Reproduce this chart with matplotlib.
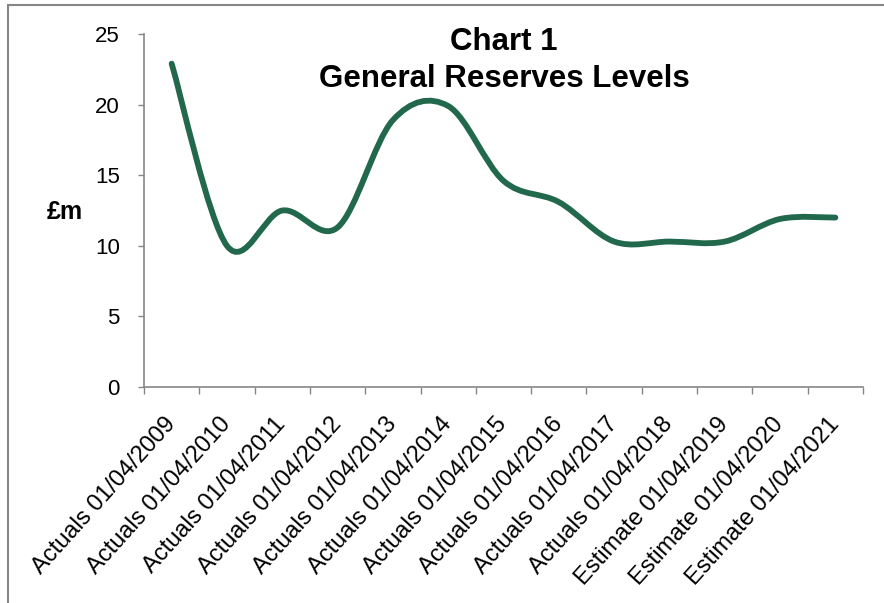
#!/usr/bin/env python3
"""Chart 1: General Reserves Levels, smoothed line."""
import matplotlib
matplotlib.use("Agg")
import matplotlib.pyplot as plt
import numpy as np
from matplotlib.path import Path
from matplotlib.patches import PathPatch, Rectangle

plt.rcParams["font.family"] = ["Liberation Sans", "DejaVu Sans"]

labels = [
    "Actuals 01/04/2009", "Actuals 01/04/2010", "Actuals 01/04/2011",
    "Actuals 01/04/2012", "Actuals 01/04/2013", "Actuals 01/04/2014",
    "Actuals 01/04/2015", "Actuals 01/04/2016", "Actuals 01/04/2017",
    "Actuals 01/04/2018", "Estimate 01/04/2019", "Estimate 01/04/2020",
    "Estimate 01/04/2021",
]
reserves = [22.9, 10.0, 12.5, 11.3, 18.9, 19.9, 14.6, 13.1, 10.3, 10.3, 10.3, 11.9, 12.0]
yticks = [0, 5, 10, 15, 20, 25]

LINE = "#21684C"
AXIS = "#868686"


def smooth_path(x, y):
    # Catmull-Rom through the points, written as cubic Bezier segments
    p = np.column_stack([x, y]).astype(float)
    n = len(p)
    verts = [p[0]]
    codes = [Path.MOVETO]
    for i in range(n - 1):
        p0 = p[max(i - 1, 0)]
        p1, p2 = p[i], p[i + 1]
        p3 = p[min(i + 2, n - 1)]
        verts += [p1 + (p2 - p0) / 6, p2 - (p3 - p1) / 6, p2]
        codes += [Path.CURVE4] * 3
    return Path(verts, codes)


fig = plt.figure(figsize=(8.84, 6.03), dpi=100)
ax = fig.add_axes([144 / 884, 1 - 387 / 603, (863 - 144) / 884, (387 - 34) / 603])

x = np.arange(len(reserves)) + 0.5
ax.add_patch(PathPatch(smooth_path(x, reserves), fill=False, edgecolor=LINE,
                       lw=4.2, capstyle="round", joinstyle="round"))

ax.set_xlim(0, len(labels))
ax.set_ylim(0, 25)
ax.set_yticks(yticks)
ax.set_xticks(np.arange(len(labels) + 1))
ax.set_xticklabels([])
ax.set_xticks(x, minor=True)
ax.set_xticklabels(labels, minor=True, rotation=48, ha="right", va="center",
                   rotation_mode="anchor", fontsize=17)
ax.tick_params(axis="x", which="minor", length=0, pad=24)
ax.tick_params(axis="x", which="major", length=5, width=1, color=AXIS)
ax.tick_params(axis="y", length=4.5, width=1, color=AXIS, labelsize=16, pad=13)

for side in ("top", "right"):
    ax.spines[side].set_visible(False)
for side in ("left", "bottom"):
    ax.spines[side].set_color(AXIS)
    ax.spines[side].set_linewidth(1.2)

fig.text(65 / 884, 1 - 212 / 603, "£m", fontsize=18, fontweight="bold",
         ha="center", va="center")
fig.text(504 / 884, 1 - 50 / 603, "Chart 1", fontsize=22.5,
         fontweight="bold", ha="center", va="baseline")
fig.text(504 / 884, 1 - 87 / 603, "General Reserves Levels", fontsize=22.5,
         fontweight="bold", ha="center", va="baseline")

# chart-area border (left and top edges visible in the crop)
fig.patches.append(Rectangle((8 / 884, -0.1), 1.2, 1 - 5 / 603 + 0.1,
                             transform=fig.transFigure, fill=False,
                             edgecolor=AXIS, lw=1.5))

fig.savefig("out.png", dpi=100)
